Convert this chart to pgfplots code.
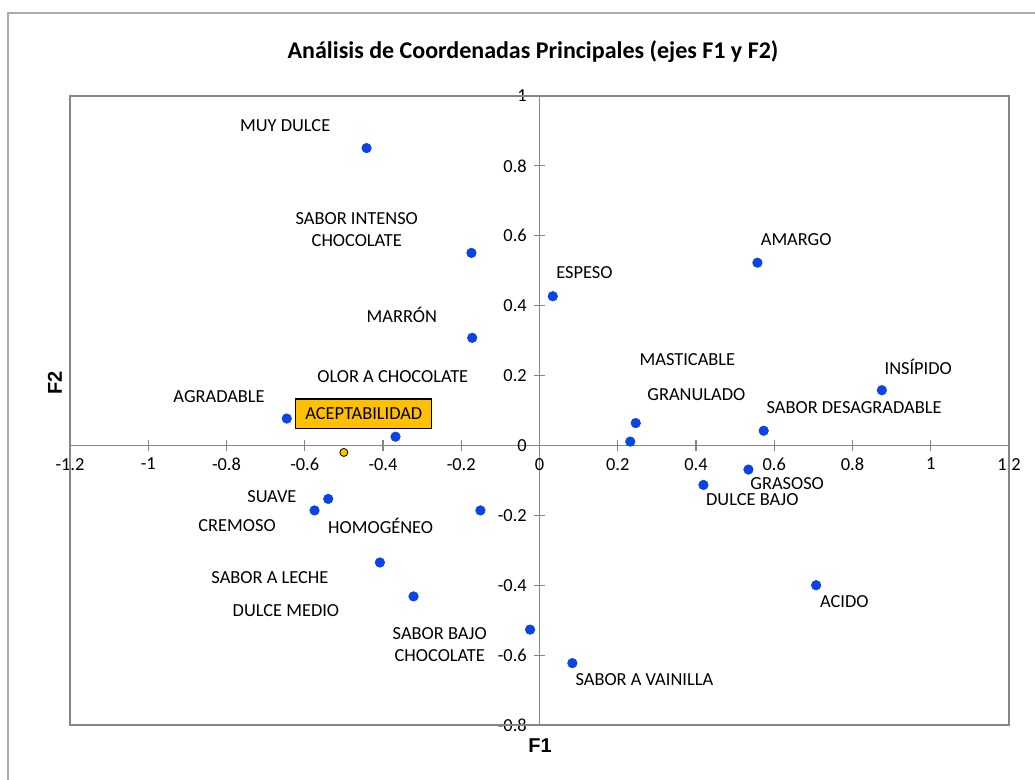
\documentclass[border=0pt]{standalone}
\usepackage{pgfplots}
\pgfplotsset{compat=1.18}
\usepackage{fontspec}
\setmainfont{Carlito}
\newfontfamily\arialfont{Liberation Sans}
\definecolor{axgray}{HTML}{868686}
\definecolor{outgray}{HTML}{ABABAB}
\definecolor{ptblue}{HTML}{0A43E6}
\definecolor{gold}{HTML}{FFC000}
\tikzset{lbl/.style={font=\fontsize{13.8}{16.5}\selectfont, inner sep=1pt}}

\pgfplotstableread{
x y
-0.442 0.851
-0.174 0.551
-0.172 0.308
0.034 0.427
0.557 0.523
0.875 0.158
0.573 0.042
0.246 0.064
0.232 0.011
0.534 -0.069
0.419 -0.113
0.707 -0.400
0.084 -0.623
-0.024 -0.527
-0.322 -0.432
-0.408 -0.335
-0.151 -0.186
-0.540 -0.153
-0.575 -0.186
-0.646 0.077
-0.368 0.025
}\vars
\pgfplotstableread{
x y
-0.500 -0.020
}\acept

\begin{document}
\begin{tikzpicture}[x=1pt,y=1pt]
\useasboundingbox (0,0) rectangle (776.25,584.25);
\draw[outgray, line width=0.9pt] (6,-5) -- (6,574.5) -- (790,574.5);
\node[font=\fontsize{18}{21}\selectfont\bfseries] at (399.75,545.25) {Análisis de Coordenadas Principales (ejes F1 y F2)};
\node[font=\fontsize{15}{18}\selectfont\arialfont\bfseries, rotate=90] at (41.25,297) {F2};
\node[font=\fontsize{15}{18}\selectfont\arialfont\bfseries] at (405,25) {F1};
\begin{axis}[at={(52.5pt,40.5pt)}, anchor=south west, scale only axis,
  width=704.25pt, height=471.75pt,
  xmin=-1.2, xmax=1.2, ymin=-0.8, ymax=1,
  axis lines=middle, axis line style={draw=axgray, line width=0.9pt, -},
  xtick={-1.2,-1,-0.8,-0.6,-0.4,-0.2,0,0.2,0.4,0.6,0.8,1,1.2},
  ytick={-0.8,-0.6,-0.4,-0.2,0,0.2,0.4,0.6,0.8,1},
  hide obscured x ticks=false, hide obscured y ticks=false,
  tick align=center, major tick length=8pt,
  tick style={draw=axgray, line width=0.9pt},
  tick label style={font=\fontsize{13.8}{16}\selectfont},
  /pgf/number format/assume math mode=true,
  xticklabel style={yshift=-2pt},
  yticklabel style={xshift=-2pt},
  clip=false,
]
\draw[axgray, line width=0.9pt] (rel axis cs:0,0) rectangle (rel axis cs:1,1);
\addplot[only marks, mark=*, mark size=3.6pt, color=ptblue, mark options={draw=ptblue, fill=ptblue}] table {\vars};
\addplot[only marks, mark=*, mark size=3pt, mark options={draw=black, fill=gold, line width=0.6pt}] table {\acept};
\node[lbl] at (axis cs:-0.650,0.914) {MUY DULCE};
\node[lbl, align=center] at (axis cs:-0.467,0.619) {SABOR INTENSO\\CHOCOLATE};
\node[lbl] at (axis cs:-0.352,0.374) {MARRÓN};
\node[lbl] at (axis cs:-0.375,0.197) {OLOR A CHOCOLATE};
\node[lbl] at (axis cs:-0.819,0.140) {AGRADABLE};
\node[lbl, draw=black, fill=gold, line width=0.9pt, minimum width=102pt, minimum height=22pt] at (axis cs:-0.449,0.091) {ACEPTABILIDAD};
\node[lbl] at (axis cs:-0.684,-0.146) {SUAVE};
\node[lbl] at (axis cs:-0.773,-0.229) {CREMOSO};
\node[lbl] at (axis cs:-0.406,-0.229) {HOMOGÉNEO};
\node[lbl] at (axis cs:-0.689,-0.377) {SABOR A LECHE};
\node[lbl] at (axis cs:-0.648,-0.474) {DULCE MEDIO};
\node[lbl, align=center] at (axis cs:-0.255,-0.569) {SABOR BAJO\\CHOCOLATE};
\node[lbl] at (axis cs:0.268,-0.669) {SABOR A VAINILLA};
\node[lbl] at (axis cs:0.115,0.494) {ESPESO};
\node[lbl] at (axis cs:0.656,0.589) {AMARGO};
\node[lbl] at (axis cs:0.378,0.246) {MASTICABLE};
\node[lbl] at (axis cs:0.401,0.146) {GRANULADO};
\node[lbl] at (axis cs:0.968,0.226) {INSÍPIDO};
\node[lbl] at (axis cs:0.804,0.109) {SABOR DESAGRADABLE};
\node[lbl] at (axis cs:0.633,-0.109) {GRASOSO};
\node[lbl] at (axis cs:0.544,-0.154) {DULCE BAJO};
\node[lbl] at (axis cs:0.779,-0.446) {ACIDO};
\end{axis}
\end{tikzpicture}
\end{document}
